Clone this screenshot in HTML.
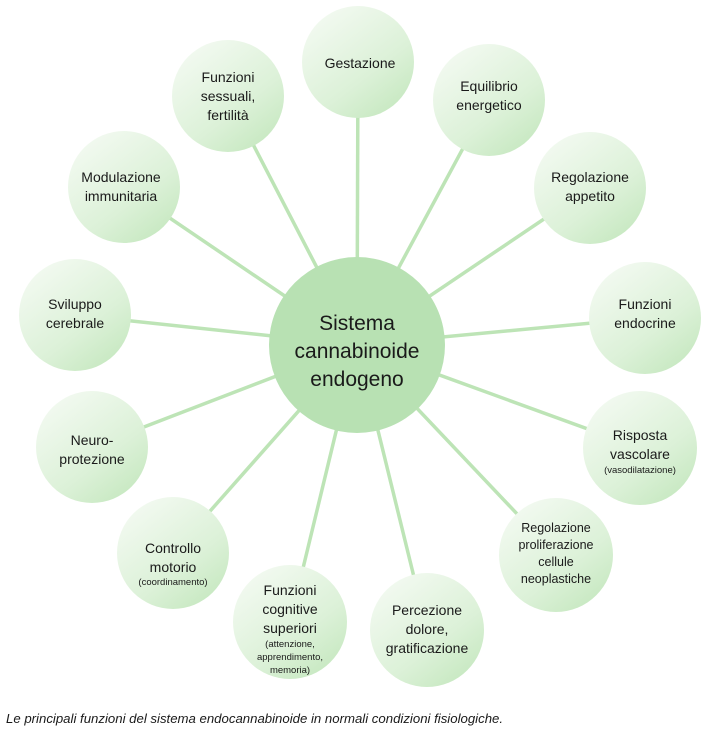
<!DOCTYPE html>
<html><head><meta charset="utf-8"><style>
html,body{margin:0;padding:0;background:#fff;width:714px;height:729px;overflow:hidden}
svg{display:block}
text{font-family:"Liberation Sans",Arial,sans-serif;fill:#1a1a1a;text-anchor:middle}
.t{font-size:14px}
.s{font-size:9.5px}
</style></head><body>
<svg width="714" height="729" viewBox="0 0 714 729">
<defs>
<linearGradient id="g" x1="0.2" y1="0.1" x2="0.85" y2="0.95">
<stop offset="0" stop-color="#f1f9ef"/><stop offset="0.6" stop-color="#dcf1d8"/><stop offset="1" stop-color="#c6e8c0"/>
</linearGradient>
</defs>
<g stroke="#bde4b6" stroke-width="3.5">
<line x1="357" y1="345" x2="358" y2="62"/>
<line x1="357" y1="345" x2="489" y2="100"/>
<line x1="357" y1="345" x2="590" y2="188"/>
<line x1="357" y1="345" x2="645" y2="318"/>
<line x1="357" y1="345" x2="640" y2="448"/>
<line x1="357" y1="345" x2="556" y2="555"/>
<line x1="357" y1="345" x2="427" y2="630"/>
<line x1="357" y1="345" x2="290" y2="622"/>
<line x1="357" y1="345" x2="173" y2="553"/>
<line x1="357" y1="345" x2="92" y2="447"/>
<line x1="357" y1="345" x2="75" y2="315"/>
<line x1="357" y1="345" x2="124" y2="187"/>
<line x1="357" y1="345" x2="228" y2="96"/>
</g>
<g fill="url(#g)">
<circle cx="358" cy="62" r="56"/>
<circle cx="489" cy="100" r="56"/>
<circle cx="590" cy="188" r="56"/>
<circle cx="645" cy="318" r="56"/>
<circle cx="640" cy="448" r="57"/>
<circle cx="556" cy="555" r="57"/>
<circle cx="427" cy="630" r="57"/>
<circle cx="290" cy="622" r="57"/>
<circle cx="173" cy="553" r="56"/>
<circle cx="92" cy="447" r="56"/>
<circle cx="75" cy="315" r="56"/>
<circle cx="124" cy="187" r="56"/>
<circle cx="228" cy="96" r="56"/>
</g>
<circle cx="357" cy="345" r="88" fill="#b8e1b3"/>
<text x="357" y="330" font-size="21">Sistema</text>
<text x="357" y="358" font-size="21">cannabinoide</text>
<text x="357" y="386" font-size="21">endogeno</text>

<text class="t" x="360" y="68">Gestazione</text>
<text class="t" x="489" y="91">Equilibrio</text>
<text class="t" x="489" y="110">energetico</text>
<text class="t" x="590" y="182">Regolazione</text>
<text class="t" x="590" y="201">appetito</text>
<text class="t" x="645" y="309">Funzioni</text>
<text class="t" x="645" y="328">endocrine</text>
<text class="t" x="640" y="440">Risposta</text>
<text class="t" x="640" y="459">vascolare</text>
<text class="s" x="640" y="473">(vasodilatazione)</text>
<text class="t" x="556" y="532" style="font-size:12.5px">Regolazione</text>
<text class="t" x="556" y="549" style="font-size:12.5px">proliferazione</text>
<text class="t" x="556" y="566" style="font-size:12.5px">cellule</text>
<text class="t" x="556" y="583" style="font-size:12.5px">neoplastiche</text>
<text class="t" x="427" y="615">Percezione</text>
<text class="t" x="427" y="634">dolore,</text>
<text class="t" x="427" y="653">gratificazione</text>
<text class="t" x="290" y="595">Funzioni</text>
<text class="t" x="290" y="614">cognitive</text>
<text class="t" x="290" y="633">superiori</text>
<text class="s" x="290" y="647">(attenzione,</text>
<text class="s" x="290" y="660">apprendimento,</text>
<text class="s" x="290" y="673">memoria)</text>
<text class="t" x="173" y="553">Controllo</text>
<text class="t" x="173" y="572">motorio</text>
<text class="s" x="173" y="585">(coordinamento)</text>
<text class="t" x="92" y="445">Neuro-</text>
<text class="t" x="92" y="464">protezione</text>
<text class="t" x="75" y="309">Sviluppo</text>
<text class="t" x="75" y="328">cerebrale</text>
<text class="t" x="121" y="182">Modulazione</text>
<text class="t" x="121" y="201">immunitaria</text>
<text class="t" x="228" y="82">Funzioni</text>
<text class="t" x="228" y="101">sessuali,</text>
<text class="t" x="228" y="120">fertilità</text>

<text x="6" y="723" font-size="13.2" font-style="italic" style="text-anchor:start">Le principali funzioni del sistema endocannabinoide in normali condizioni fisiologiche.</text>
</svg>
</body></html>
